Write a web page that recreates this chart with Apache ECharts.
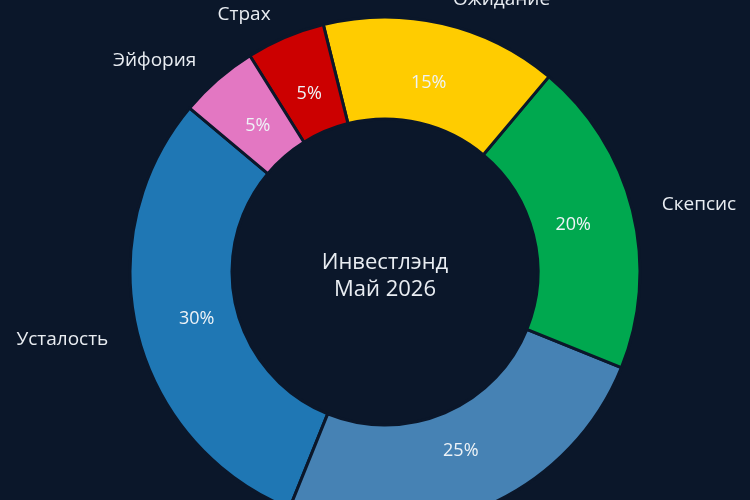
<!DOCTYPE html>
<html>
<head>
<meta charset="utf-8">
<script src="https://cdn.jsdelivr.net/npm/echarts@6/dist/echarts.min.js"></script>
<style>
  html, body { margin: 0; padding: 0; background: #0b172a; }
  #chart { width: 750px; height: 500px; }
</style>
</head>
<body>
<div id="chart"></div>
<script>
// slice order follows the picture, counter-clockwise from the upper left
const names = ["Усталость", "Надежда", "Скепсис", "Ожидание", "Страх", "Эйфория"];
const shares = [30, 25, 20, 15, 5, 5];
const colors = ["#1f77b4", "#4682b4", "#00a84f", "#ffcc00", "#cc0000", "#e377c2"];
const centerLines = ["Инвестлэнд", "Май 2026"];

const bg = "#0b172a";
const font = "'Open Sans', Roboto, sans-serif";

const chart = echarts.init(document.getElementById("chart"));

const slices = names.map((n, i) => ({
  name: n,
  value: shares[i],
  itemStyle: { color: colors[i] },
}));

chart.setOption({
  backgroundColor: bg,
  animation: false,
  graphic: [
    {
      type: "text",
      x: 385,
      y: 276,
      style: {
        text: centerLines.join("\n"),
        fill: "#e9edf2",
        font: "22px " + font,
        lineHeight: 27,
        align: "center",
        verticalAlign: "middle",
      },
    },
  ],
  series: [
    {
      // the ring with the names outside
      type: "pie",
      center: [385, 272],
      radius: [153, 255],
      startAngle: 140,
      clockwise: false,
      avoidLabelOverlap: false,
      silent: true,
      itemStyle: { borderColor: bg, borderWidth: 3 },
      label: {
        show: true,
        position: "outside",
        formatter: "{b}",
        color: "#e9edf2",
        fontSize: 19,
        fontFamily: font,
      },
      labelLine: { show: false, length: 25, length2: 0 },
      data: slices,
    },
    {
      // invisible copy that only carries the percent labels
      type: "pie",
      center: [385, 272],
      radius: [127, 255],
      startAngle: 140,
      clockwise: false,
      avoidLabelOverlap: false,
      silent: true,
      itemStyle: { color: "transparent", borderWidth: 0 },
      label: {
        show: true,
        position: "inside",
        formatter: "{c}%",
        color: "#eef3f7",
        fontSize: 18,
        fontFamily: font,
      },
      labelLine: { show: false },
      data: names.map((n, i) => ({ name: n, value: shares[i] })),
    },
  ],
});
</script>
</body>
</html>
